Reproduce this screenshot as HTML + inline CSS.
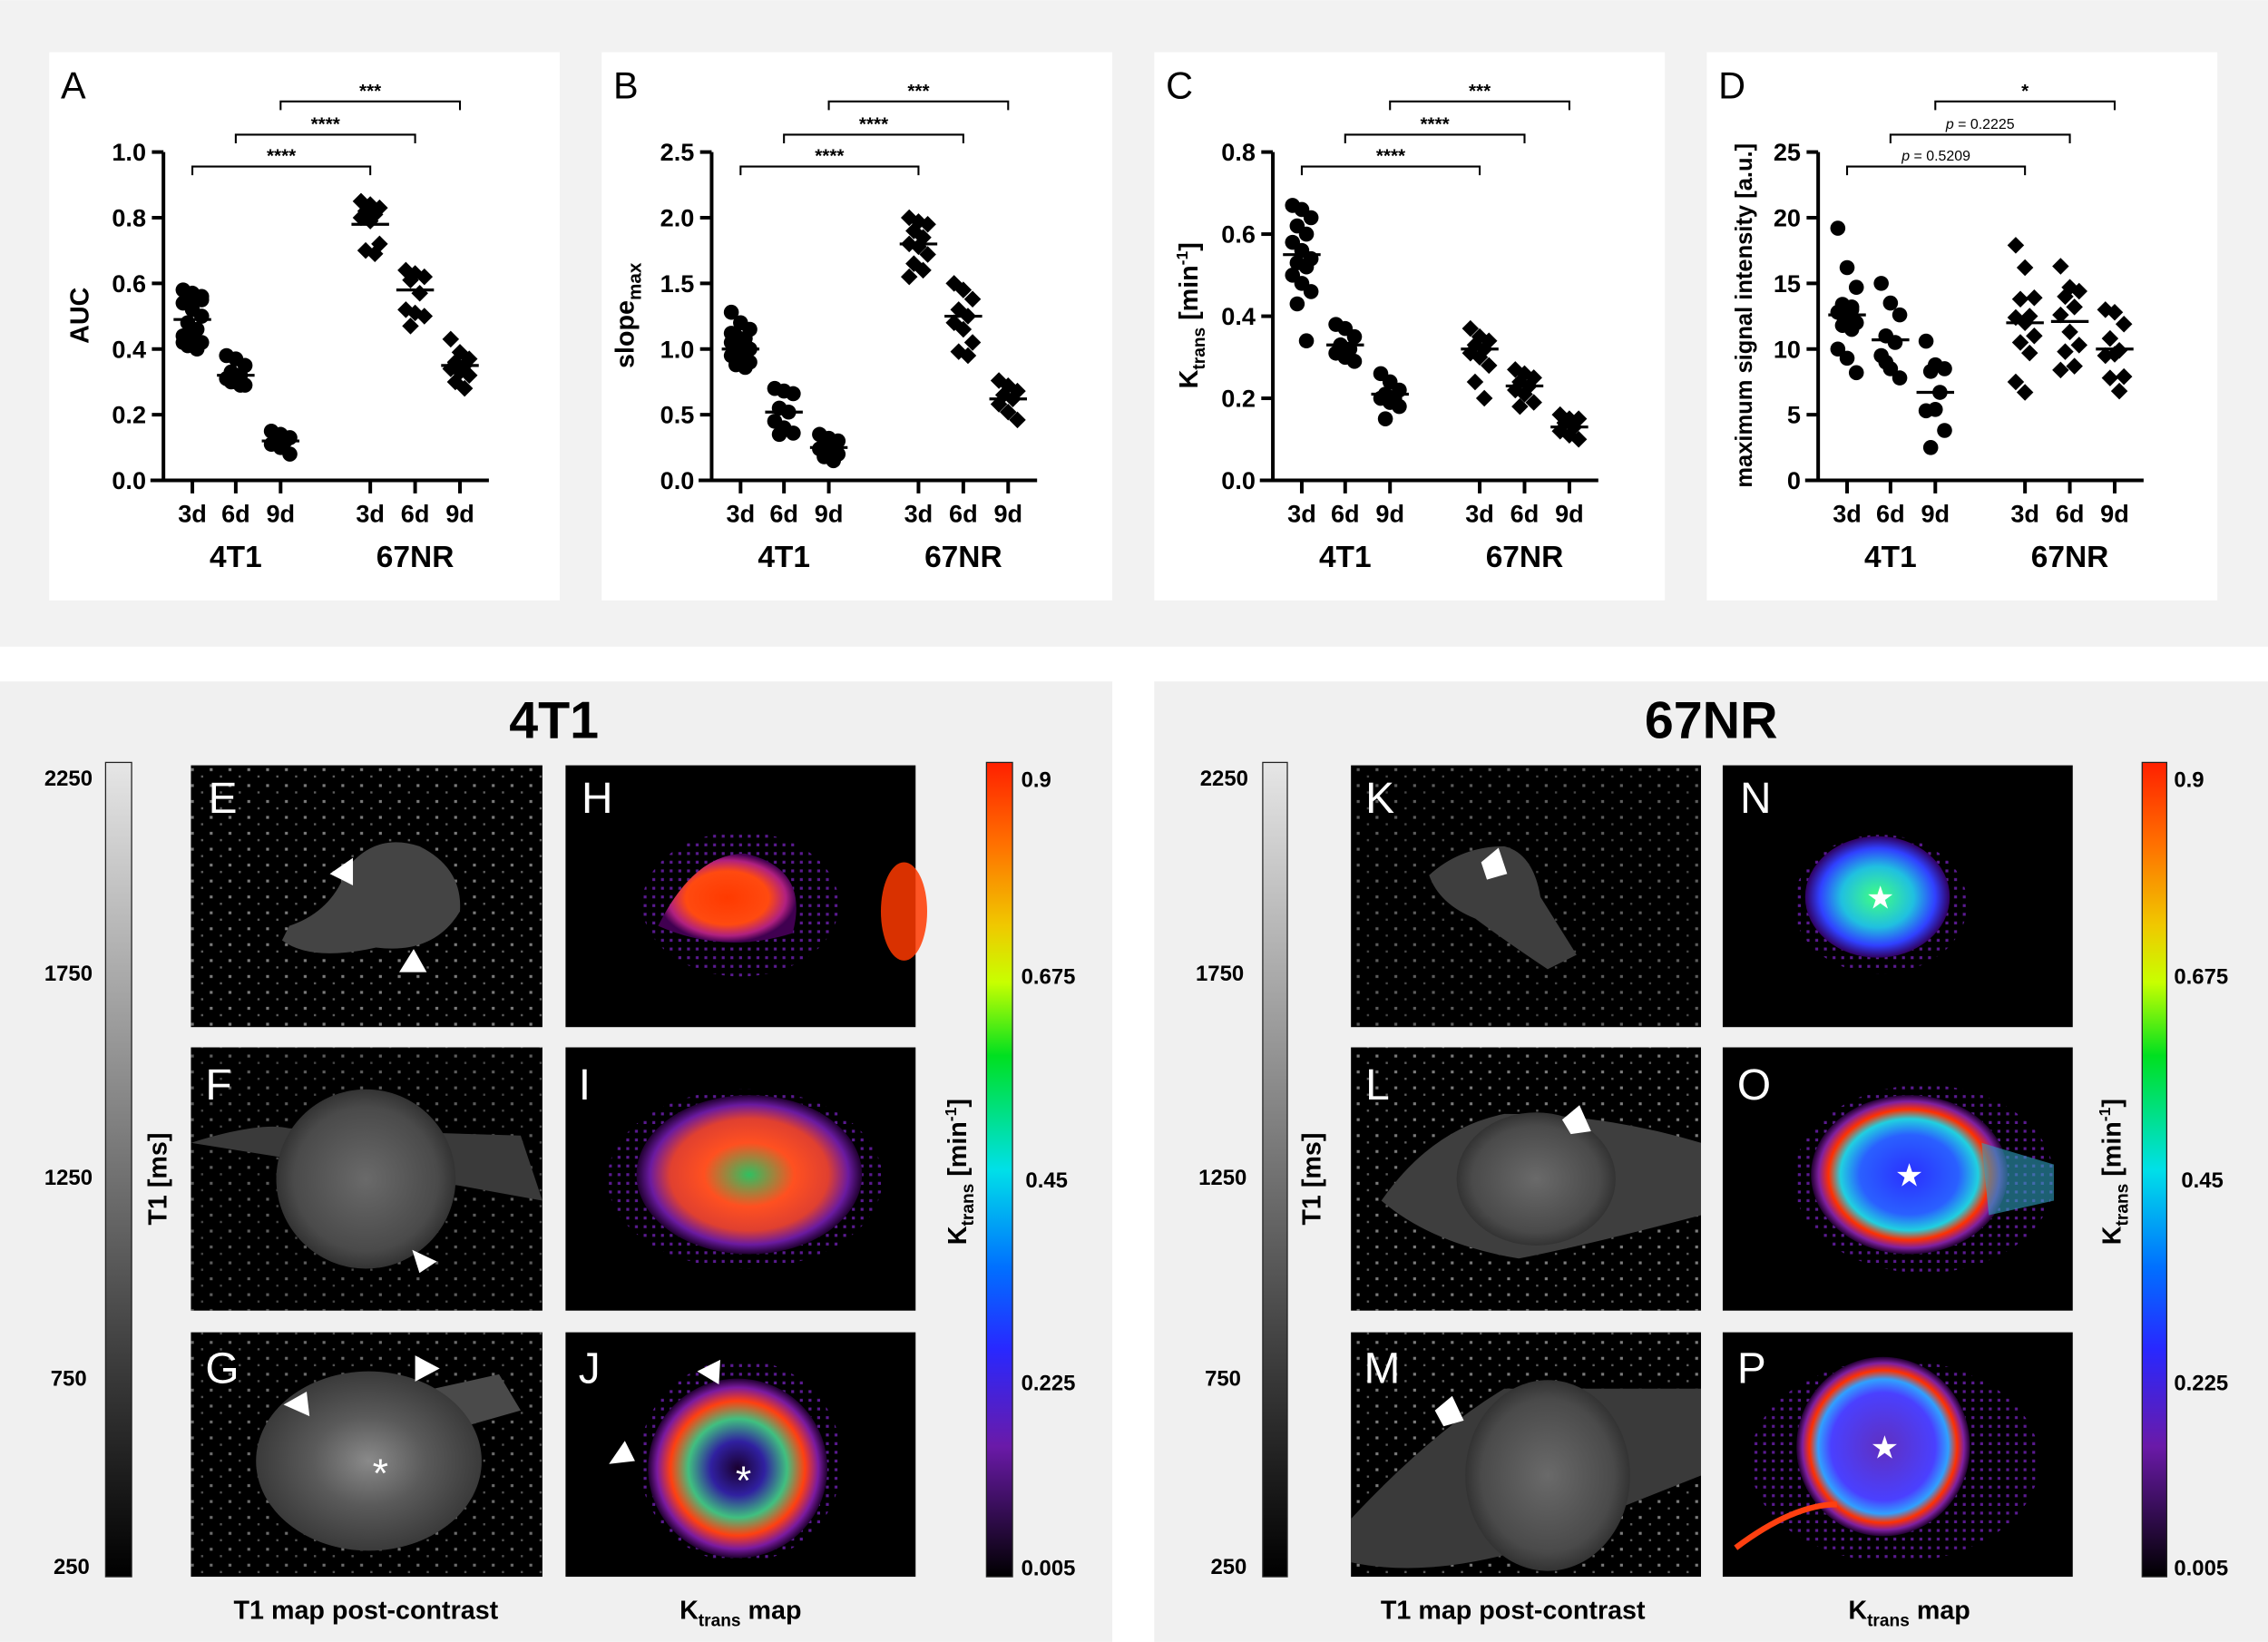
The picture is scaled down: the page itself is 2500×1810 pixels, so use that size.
<!DOCTYPE html>
<html><head><meta charset="utf-8">
<style>
html,body{margin:0;padding:0;background:#fff;}
svg{display:block;font-family:"Liberation Sans",Arial,sans-serif;}
.b{font-weight:bold;}
</style></head>
<body>
<svg id="fig" width="2500" height="1810" viewBox="0 0 1568 1135" xmlns="http://www.w3.org/2000/svg">
<defs>
  <linearGradient id="gray" x1="0" y1="0" x2="0" y2="1">
    <stop offset="0" stop-color="#e6e6e6"/><stop offset="1" stop-color="#000"/>
  </linearGradient>
  <linearGradient id="rainbow" x1="0" y1="0" x2="0" y2="1">
    <stop offset="0" stop-color="#ff2000"/><stop offset="0.1" stop-color="#ff7000"/>
    <stop offset="0.2" stop-color="#f0c800"/><stop offset="0.27" stop-color="#c8ff00"/>
    <stop offset="0.36" stop-color="#00e020"/><stop offset="0.5" stop-color="#00e0e8"/>
    <stop offset="0.62" stop-color="#0070ff"/><stop offset="0.72" stop-color="#2828ff"/>
    <stop offset="0.84" stop-color="#6a1aa8"/><stop offset="1" stop-color="#000"/>
  </linearGradient>
  <radialGradient id="tum"><stop offset="0" stop-color="#6a6a6a"/><stop offset="0.8" stop-color="#4a4a4a"/><stop offset="1" stop-color="#333"/></radialGradient>
  <radialGradient id="tumG"><stop offset="0" stop-color="#8a8a8a"/><stop offset="0.5" stop-color="#5a5a5a"/><stop offset="1" stop-color="#3a3a3a"/></radialGradient>
  <radialGradient id="hot"><stop offset="0" stop-color="#ff3a00"/><stop offset="0.6" stop-color="#ff4a10"/><stop offset="0.85" stop-color="#b02080"/><stop offset="1" stop-color="#400050"/></radialGradient>
  <radialGradient id="mix"><stop offset="0" stop-color="#30c060"/><stop offset="0.4" stop-color="#ff5020"/><stop offset="0.7" stop-color="#e04030"/><stop offset="0.88" stop-color="#6a1aa0"/><stop offset="1" stop-color="#200030"/></radialGradient>
  <radialGradient id="ringJ"><stop offset="0" stop-color="#1a0030"/><stop offset="0.3" stop-color="#3020a0"/><stop offset="0.55" stop-color="#40c080"/><stop offset="0.75" stop-color="#ff4010"/><stop offset="0.9" stop-color="#7a1aa0"/><stop offset="1" stop-color="#200030"/></radialGradient>
  <radialGradient id="blueN"><stop offset="0" stop-color="#40ff80"/><stop offset="0.5" stop-color="#20c0e0"/><stop offset="0.8" stop-color="#3040ff"/><stop offset="1" stop-color="#300060"/></radialGradient>
  <radialGradient id="ringO"><stop offset="0" stop-color="#2a30ff"/><stop offset="0.5" stop-color="#2a60ff"/><stop offset="0.7" stop-color="#20d0e0"/><stop offset="0.82" stop-color="#ff3000"/><stop offset="0.92" stop-color="#8020a0"/><stop offset="1" stop-color="#200030"/></radialGradient>
  <radialGradient id="ringP"><stop offset="0" stop-color="#6030c0"/><stop offset="0.6" stop-color="#4a40ff"/><stop offset="0.75" stop-color="#30a0ff"/><stop offset="0.85" stop-color="#ff3000"/><stop offset="0.93" stop-color="#8020a0"/><stop offset="1" stop-color="#200030"/></radialGradient>
  <pattern id="speck" width="13" height="11" patternUnits="userSpaceOnUse">
    <rect x="2" y="3" width="2" height="2" fill="#9a9a9a"/><rect x="9" y="8" width="1.5" height="1.5" fill="#777"/>
  </pattern>
  <pattern id="pspeck" width="6" height="6" patternUnits="userSpaceOnUse">
    <rect x="1" y="1" width="2" height="2" fill="#5a1a90"/>
  </pattern>
</defs>

<rect x="0" y="0" width="1568" height="447" fill="#f2f2f2"/>
<rect x="0" y="471" width="769" height="664" fill="#f0f0f0"/>
<rect x="798" y="471" width="770" height="664" fill="#f0f0f0"/>
<g id="charts"></g>

<g>
  <text x="383" y="510" font-size="36" class="b" text-anchor="middle">4T1</text>
  <rect x="73" y="527" width="18" height="563" fill="url(#gray)" stroke="#222" stroke-width="0.8"/>
  <g font-size="15" class="b" text-anchor="end">
    <text x="64" y="543">2250</text><text x="64" y="678">1750</text><text x="64" y="819">1250</text><text x="60" y="958">750</text><text x="62" y="1088">250</text>
  </g>
  <text transform="translate(115,815) rotate(-90)" font-size="18" class="b" text-anchor="middle">T1 [ms]</text>
  <g>
    <rect x="132" y="529" width="243" height="181" fill="#000"/><rect x="132" y="529" width="243" height="181" fill="url(#speck)" opacity="0.8"/>
    <path d="M200 640 Q230 630 240 600 Q260 575 290 585 Q320 600 318 630 Q300 660 260 655 Q215 665 195 650 Z" fill="#444"/>
    <polygon points="228,604 244,593 244,612" fill="#fff"/><polygon points="276,672 286,656 295,672" fill="#fff"/>
    <text x="144" y="562" font-size="30" fill="#fff">E</text>
  </g>
  <g>
    <rect x="132" y="724" width="243" height="182" fill="#000"/><rect x="132" y="724" width="243" height="182" fill="url(#speck)" opacity="0.6"/>
    <path d="M132 790 Q180 775 200 780 L360 785 L375 830 L320 820 Z" fill="#3a3a3a"/>
    <ellipse cx="253" cy="815" rx="62" ry="62" fill="url(#tum)"/>
    <polygon points="285,864 302,872 290,880" fill="#fff"/>
    <text x="142" y="760" font-size="30" fill="#fff">F</text>
  </g>
  <g>
    <rect x="132" y="921" width="243" height="169" fill="#000"/><rect x="132" y="921" width="243" height="169" fill="url(#speck)" opacity="0.7"/>
    <path d="M300 960 L345 950 L360 975 L325 985 Z" fill="#4a4a4a"/>
    <ellipse cx="255" cy="1010" rx="78" ry="62" fill="url(#tumG)"/>
    <polygon points="287,937 304,946 287,955" fill="#fff"/><polygon points="196,971 212,962 214,979" fill="#fff"/>
    <text x="263" y="1028" font-size="28" fill="#fff" text-anchor="middle">*</text>
    <text x="142" y="956" font-size="30" fill="#fff">G</text>
  </g>
  <g>
    <rect x="391" y="529" width="242" height="181" fill="#000"/>
    <ellipse cx="512" cy="625" rx="68" ry="50" fill="url(#pspeck)"/>
    <path d="M455 640 Q480 590 515 590 Q560 600 548 645 Q500 660 455 640 Z" fill="url(#hot)"/>
    <ellipse cx="625" cy="630" rx="16" ry="34" fill="#ff3a00" opacity="0.85"/>
    <text x="402" y="562" font-size="30" fill="#fff">H</text>
  </g>
  <g>
    <rect x="391" y="724" width="242" height="182" fill="#000"/>
    <ellipse cx="515" cy="815" rx="95" ry="62" fill="url(#pspeck)"/>
    <ellipse cx="518" cy="812" rx="78" ry="55" fill="url(#mix)"/>
    <text x="400" y="760" font-size="30" fill="#fff">I</text>
  </g>
  <g>
    <rect x="391" y="921" width="242" height="169" fill="#000"/>
    <ellipse cx="512" cy="1010" rx="70" ry="70" fill="url(#pspeck)"/>
    <ellipse cx="510" cy="1015" rx="62" ry="62" fill="url(#ringJ)"/>
    <polygon points="482,948 498,940 497,957" fill="#fff"/><polygon points="421,1012 432,996 439,1010" fill="#fff"/>
    <text x="514" y="1033" font-size="28" fill="#fff" text-anchor="middle">*</text>
    <text x="400" y="956" font-size="30" fill="#fff">J</text>
  </g>
  <rect x="682" y="527" width="18" height="563" fill="url(#rainbow)" stroke="#222" stroke-width="0.8"/>
  <g font-size="15" class="b">
    <text x="706" y="544">0.9</text><text x="706" y="680">0.675</text><text x="709" y="821">0.45</text><text x="706" y="961">0.225</text><text x="706" y="1089">0.005</text>
  </g>
  <text transform="translate(668,810) rotate(-90)" font-size="18" class="b" text-anchor="middle">K<tspan font-size="12" dy="5">trans</tspan><tspan dy="-5"> [min</tspan><tspan font-size="11" dy="-7">-1</tspan><tspan dy="7">]</tspan></text>
  <text x="253" y="1119" font-size="18" class="b" text-anchor="middle">T1 map post-contrast</text>
  <text x="512" y="1119" font-size="18" class="b" text-anchor="middle">K<tspan font-size="12" dy="5">trans</tspan><tspan dy="-5"> map</tspan></text>
</g>

<g>
  <text x="1183" y="510" font-size="36" class="b" text-anchor="middle">67NR</text>
  <rect x="873" y="527" width="17" height="563" fill="url(#gray)" stroke="#222" stroke-width="0.8"/>
  <g font-size="15" class="b" text-anchor="end">
    <text x="863" y="543">2250</text><text x="860" y="678">1750</text><text x="862" y="819">1250</text><text x="858" y="958">750</text><text x="862" y="1088">250</text>
  </g>
  <text transform="translate(913,815) rotate(-90)" font-size="18" class="b" text-anchor="middle">T1 [ms]</text>
  <g>
    <rect x="934" y="529" width="242" height="181" fill="#000"/><rect x="934" y="529" width="242" height="181" fill="url(#speck)" opacity="0.6"/>
    <path d="M988 605 Q1010 585 1040 585 Q1060 590 1065 620 L1090 660 L1070 670 Q1040 650 1020 635 Q995 625 988 605 Z" fill="#3e3e3e"/>
    <polygon points="1024,596 1036,586 1042,604 1028,608" fill="#fff"/>
    <text x="944" y="562" font-size="30" fill="#fff">K</text>
  </g>
  <g>
    <rect x="934" y="724" width="242" height="182" fill="#000"/><rect x="934" y="724" width="242" height="182" fill="url(#speck)" opacity="0.8"/>
    <path d="M955 830 Q990 780 1040 770 Q1110 770 1176 790 L1176 840 Q1100 860 1050 870 Q990 860 955 830 Z" fill="#3e3e3e"/>
    <ellipse cx="1062" cy="815" rx="55" ry="46" fill="url(#tum)"/>
    <polygon points="1080,774 1092,764 1100,782 1086,784" fill="#fff"/>
    <text x="944" y="760" font-size="30" fill="#fff">L</text>
  </g>
  <g>
    <rect x="934" y="921" width="242" height="169" fill="#000"/><rect x="934" y="921" width="242" height="169" fill="url(#speck)" opacity="0.8"/>
    <path d="M934 1050 Q990 990 1040 960 L1176 960 L1176 1020 Q1100 1050 1040 1075 Q980 1090 934 1080 Z" fill="#3a3a3a"/>
    <ellipse cx="1070" cy="1020" rx="57" ry="66" fill="url(#tum)"/>
    <polygon points="992,975 1004,965 1012,982 998,986" fill="#fff"/>
    <text x="943" y="956" font-size="30" fill="#fff">M</text>
  </g>
  <g>
    <rect x="1191" y="529" width="242" height="181" fill="#000"/>
    <ellipse cx="1300" cy="625" rx="60" ry="48" fill="url(#pspeck)"/>
    <ellipse cx="1298" cy="620" rx="50" ry="42" fill="url(#blueN)"/>
    <text x="1300" y="628" font-size="22" fill="#fff" text-anchor="middle">★</text>
    <text x="1203" y="562" font-size="30" fill="#fff">N</text>
  </g>
  <g>
    <rect x="1191" y="724" width="242" height="182" fill="#000"/>
    <ellipse cx="1330" cy="815" rx="90" ry="65" fill="url(#pspeck)"/>
    <ellipse cx="1320" cy="812" rx="68" ry="55" fill="url(#ringO)"/>
    <path d="M1370 790 L1420 805 L1420 830 L1375 840 Z" fill="#30a0c0" opacity="0.6"/>
    <text x="1320" y="820" font-size="22" fill="#fff" text-anchor="middle">★</text>
    <text x="1201" y="760" font-size="30" fill="#fff">O</text>
  </g>
  <g>
    <rect x="1191" y="921" width="242" height="169" fill="#000"/>
    <ellipse cx="1310" cy="1010" rx="100" ry="70" fill="url(#pspeck)"/>
    <ellipse cx="1302" cy="1000" rx="60" ry="62" fill="url(#ringP)"/>
    <path d="M1200 1070 Q1240 1040 1270 1040" stroke="#ff4010" stroke-width="4" fill="none"/>
    <text x="1303" y="1008" font-size="22" fill="#fff" text-anchor="middle">★</text>
    <text x="1201" y="956" font-size="30" fill="#fff">P</text>
  </g>
  <rect x="1481" y="527" width="17" height="563" fill="url(#rainbow)" stroke="#222" stroke-width="0.8"/>
  <g font-size="15" class="b">
    <text x="1503" y="544">0.9</text><text x="1503" y="680">0.675</text><text x="1508" y="821">0.45</text><text x="1503" y="961">0.225</text><text x="1503" y="1089">0.005</text>
  </g>
  <text transform="translate(1466,810) rotate(-90)" font-size="18" class="b" text-anchor="middle">K<tspan font-size="12" dy="5">trans</tspan><tspan dy="-5"> [min</tspan><tspan font-size="11" dy="-7">-1</tspan><tspan dy="7">]</tspan></text>
  <text x="1046" y="1119" font-size="18" class="b" text-anchor="middle">T1 map post-contrast</text>
  <text x="1320" y="1119" font-size="18" class="b" text-anchor="middle">K<tspan font-size="12" dy="5">trans</tspan><tspan dy="-5"> map</tspan></text>
</g>

<script>
const categories = ["3d","6d","9d","3d","6d","9d"];
const groups = ["4T1","67NR"];
const aucValues = [
 [0.58,0.57,0.56,0.55,0.55,0.54,0.52,0.50,0.48,0.46,0.44,0.43,0.42,0.41,0.40,0.42,0.45,0.55],
 [0.38,0.37,0.35,0.33,0.32,0.31,0.30,0.29,0.30,0.29],
 [0.15,0.14,0.13,0.13,0.12,0.11,0.10,0.08],
 [0.85,0.84,0.83,0.82,0.81,0.80,0.79,0.72,0.70,0.69],
 [0.64,0.63,0.62,0.61,0.57,0.52,0.51,0.50,0.47],
 [0.43,0.39,0.37,0.36,0.35,0.34,0.33,0.32,0.30,0.28]];
const aucMeans = [0.49,0.32,0.12,0.78,0.58,0.35];
const slopeValues = [
 [1.28,1.2,1.15,1.1,1.08,1.05,1.02,1.0,0.98,0.96,0.95,0.93,0.9,0.88,0.86,1.12],
 [0.70,0.68,0.66,0.55,0.52,0.45,0.40,0.36,0.35],
 [0.35,0.32,0.30,0.28,0.26,0.24,0.22,0.20,0.18,0.15],
 [2.0,1.97,1.95,1.9,1.85,1.8,1.78,1.72,1.65,1.6,1.55],
 [1.5,1.45,1.38,1.3,1.25,1.2,1.15,1.05,0.98,0.95],
 [0.76,0.72,0.68,0.65,0.62,0.58,0.52,0.46]];
const slopeMeans = [1.0,0.52,0.25,1.8,1.25,0.62];
const ktransValues = [
 [0.67,0.66,0.64,0.62,0.60,0.58,0.56,0.54,0.53,0.52,0.50,0.48,0.46,0.43,0.34],
 [0.38,0.37,0.35,0.33,0.32,0.31,0.30,0.29],
 [0.26,0.24,0.22,0.21,0.20,0.20,0.19,0.18,0.15],
 [0.37,0.35,0.34,0.33,0.32,0.31,0.30,0.28,0.24,0.20],
 [0.27,0.26,0.25,0.24,0.23,0.22,0.21,0.19,0.18],
 [0.16,0.15,0.15,0.14,0.13,0.12,0.11,0.10]];
const ktransMeans = [0.55,0.33,0.21,0.32,0.23,0.13];
const msiValues = [
 [19.2,16.2,14.7,13.4,13.2,12.8,12.5,12.0,11.8,11.5,10.0,9.3,8.2,12.6,13.0],
 [15.0,13.5,12.6,11.0,10.5,9.5,8.5,7.8,9.0],
 [10.6,8.8,8.5,8.3,6.7,5.3,5.4,3.8,2.5],
 [17.9,16.2,13.9,13.8,12.5,12.4,12.0,11.0,10.5,9.7,7.5,6.7],
 [16.3,14.7,14.4,14.0,13.2,12.6,11.3,10.3,9.8,8.7,8.4],
 [13.0,12.8,11.9,10.8,9.9,9.5,9.6,7.9,7.8,6.8]];
const msiMeans = [12.6,10.7,6.7,12.0,12.1,10.0];
const aucTicks = ["0.0","0.2","0.4","0.6","0.8","1.0"];
const slopeTicks = ["0.0","0.5","1.0","1.5","2.0","2.5"];
const ktransTicks = ["0.0","0.2","0.4","0.6","0.8"];
const msiTicks = ["0","5","10","15","20","25"];
const aucSig = ["****","****","***"];
const slopeSig = ["****","****","***"];
const ktransSig = ["****","****","***"];
const msiSig = ["p = 0.5209","p = 0.2225","*"];

const NS = "http://www.w3.org/2000/svg";
const root = document.getElementById("charts");
function el(tag, attrs, parent){
  const e = document.createElementNS(NS, tag);
  for (const k in attrs) e.setAttribute(k, attrs[k]);
  (parent||root).appendChild(e);
  return e;
}
function addSpans(textEl, segs){
  segs.forEach(s => {
    const t = document.createElementNS(NS, "tspan");
    if (s.size) t.setAttribute("font-size", s.size);
    if (s.dy) t.setAttribute("dy", s.dy);
    if (s.italic) t.setAttribute("font-style", "italic");
    t.textContent = s.t;
    textEl.appendChild(t);
  });
}
const baseCatX = [133,163,194,256,287,318];
const Y0 = 332, Y1 = 105;

function chart(opt){
  const dx = opt.dx;
  const g = el("g", {});
  
  
  const bg = el("rect", {x:34+opt.px, y:36, width:353, height:379, fill:"#fff"}, g);
  
  
  const letter = el("text", {x:42+opt.px, y:68, "font-size":26}, g);
  letter.textContent = opt.letter;
  
  
  const ymax = parseFloat(opt.ticks[opt.ticks.length-1]);
  const ys = v => Y0 - (Y0-Y1) * v / opt.axisMax;
  const yTop = ys(ymax);
  const xs = i => baseCatX[i] + dx;
  const axisX = 113 + dx;
  const ya = el("line", {x1:axisX, y1:yTop, x2:axisX, y2:Y0+1, stroke:"#000", "stroke-width":2.5}, g);
  
  
  const xa = el("line", {x1:axisX-9, y1:Y0, x2:338+dx, y2:Y0, stroke:"#000", "stroke-width":2.5}, g);
  
  
  opt.ticks.forEach(t => {
    const y = ys(parseFloat(t));
    const tl = el("line", {x1:axisX-8, y1:y, x2:axisX, y2:y, stroke:"#000", "stroke-width":2.5}, g);
    
    
    const tx = el("text", {x:axisX-12, y:y+6, "font-size":17, "font-weight":"bold", "text-anchor":"end"}, g);
    tx.textContent = t;
    
    
  });
  categories.forEach((c,i) => {
    const tl = el("line", {x1:xs(i), y1:Y0, x2:xs(i), y2:Y0+9, stroke:"#000", "stroke-width":2.5}, g);
    
    
    const tx = el("text", {x:xs(i), y:361, "font-size":17, "font-weight":"bold", "text-anchor":"middle"}, g);
    tx.textContent = c;
    
    
  });
  groups.forEach((gname,k) => {
    const tx = el("text", {x:xs(1+3*k), y:392, "font-size":21, "font-weight":"bold", "text-anchor":"middle"}, g);
    tx.textContent = gname;
    
    
  });
  const yt = el("text", {transform:`translate(${opt.titleX+dx},${opt.titleY}) rotate(-90)`, "font-size":opt.titleSize||18, "font-weight":"bold", "text-anchor":"middle"}, g);
  addSpans(yt, opt.title);
  
  
  opt.values.forEach((arr,i) => {
    arr.forEach((v,j) => {
      const jit = ((j*7)%5 - 2) * 3.2;
      const cx = xs(i) + jit, cy = ys(v);
      let m;
      if (i < 3) {
        m = el("circle", {cx:cx, cy:cy, r:5.2, fill:"#000"}, g);
      } else {
        const s = 5.8;
        m = el("polygon", {points:`${cx},${cy-s} ${cx+s},${cy} ${cx},${cy+s} ${cx-s},${cy}`, fill:"#000"}, g);
      }
      
      
    });
    const ml = el("line", {x1:xs(i)-13, y1:ys(opt.means[i]), x2:xs(i)+13, y2:ys(opt.means[i]), stroke:"#000", "stroke-width":2}, g);
    
    
  });
  const by = [115, 93, 70];
  opt.sig.forEach((s,k) => {
    const x1 = xs(k), x2 = xs(k+3);
    const br = el("path", {d:`M${x1} ${by[k]+6} V${by[k]} H${x2} V${by[k]+6}`, fill:"none", stroke:"#000", "stroke-width":1.3}, g);
    
    
    const isP = s.startsWith("p");
    const tx = el("text", {x:(x1+x2)/2, y:by[k]-(isP?4:3), "font-size":isP?10:13, "text-anchor":"middle", "font-weight":isP?"normal":"bold"}, g);
    if (isP) addSpans(tx, [{t:"p", italic:true}, {t:s.slice(1)}]); else tx.textContent = s;
    
    
  });
}
const ktransTitle = [{t:"K"},{t:"trans",size:12,dy:5},{t:" [min",dy:-5},{t:"-1",size:11,dy:-7},{t:"]",dy:7}];
chart({name:"chart-a-auc", letter:"A", dx:0, px:0, axisMax:1.0, ticks:aucTicks, values:aucValues, means:aucMeans, sig:aucSig,
  title:[{t:"AUC"}], titleX:61, titleY:218});
chart({name:"chart-b-slope", letter:"B", dx:379, px:382, axisMax:2.5, ticks:slopeTicks, values:slopeValues, means:slopeMeans, sig:slopeSig,
  title:[{t:"slope"},{t:"max",size:13,dy:5}], titleX:59, titleY:218});
chart({name:"chart-c-ktrans", letter:"C", dx:767, px:764, axisMax:0.8, ticks:ktransTicks, values:ktransValues, means:ktransMeans, sig:ktransSig,
  title:ktransTitle, titleX:61, titleY:218});
chart({name:"chart-d-msi", letter:"D", dx:1144, px:1146, axisMax:25, ticks:msiTicks, values:msiValues, means:msiMeans, sig:msiSig,
  title:[{t:"maximum signal intensity [a.u.]"}], titleX:67, titleY:218, titleSize:16});
</script>
</svg>
</body></html>
